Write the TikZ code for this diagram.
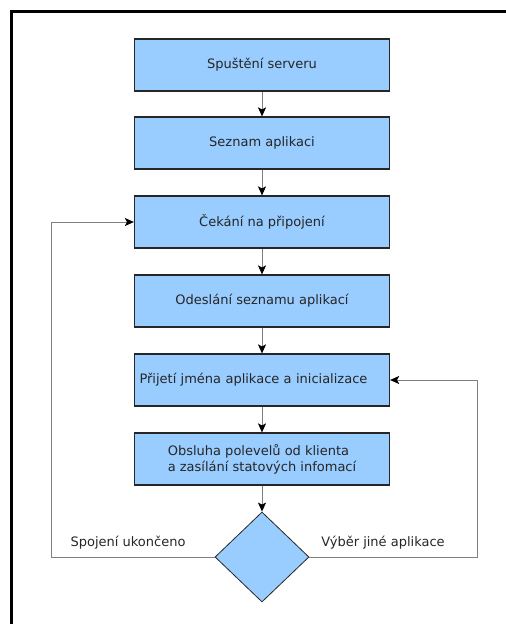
\documentclass[tikz,border=0pt]{standalone}
\usepackage{fontspec}
\setmainfont{DejaVu Sans}
\usetikzlibrary{arrows.meta,shapes.geometric}
\definecolor{boxblue}{RGB}{153,204,255}

\begin{document}
\begin{tikzpicture}[
    x=1pt,y=-1pt,
    step box/.style={rectangle,draw=black!85,line width=1.2pt,fill=boxblue,
      minimum width=255pt,minimum height=52pt,inner sep=5pt,font=\fontsize{13}{16}\selectfont,
      text=black!85},
    choice/.style={diamond,draw=black!85,line width=0.8pt,fill=boxblue,
      minimum width=94pt,minimum height=90pt,inner sep=0pt},
    flow/.style={draw=black!50,line width=1pt,-{Stealth[black,length=9pt,width=8pt,inset=2pt]}},
    note/.style={font=\fontsize{13}{16}\selectfont,text=black!85,inner sep=0pt}
  ]
    \useasboundingbox (0,0) rectangle (506,624);

    % Frame (only top and left edge are in view)
    \draw[line width=3pt] (11,624) -- (11,11) -- (506,11);

    % Steps of the server
    \node[step box] (start) at (262,65) {Spuštění serveru};
    \node[step box] (list) at (262,143) {Seznam aplikaci};
    \node[step box] (wait) at (262,222) {Čekání na připojení};
    \node[step box] (send) at (262,301) {Odeslání seznamu aplikací};
    \node[step box,text width=245pt,align=left] (init) at (262,380)
      {Přijetí jména aplikace a inicializace};
    \node[step box,align=left] (serve) at (262,459)
      {Obsluha polevelů od klienta\\a zasílání statových infomací};
    \node[choice] (decide) at (262,557) {};

    % Main flow
    \draw[flow] (start) -- (list);
    \draw[flow] (list) -- (wait);
    \draw[flow] (wait) -- (send);
    \draw[flow] (send) -- (init);
    \draw[flow] (init) -- (serve);
    \draw[flow] (serve) -- (decide);

    % Loops back
    \coordinate (lft) at (51,557);
    \coordinate (rgt) at (477,557);
    \draw[flow] (decide.west) -- (lft) |- (wait.west);
    \draw[flow] (decide.east) -- (rgt) |- (init.east);

    \node[note,anchor=base] (closed) at (128,546) {Spojení ukončeno};
    \node[note,anchor=base] (other) at (383,546) {Výběr jiné aplikace};

  \end{tikzpicture}
\end{document}
